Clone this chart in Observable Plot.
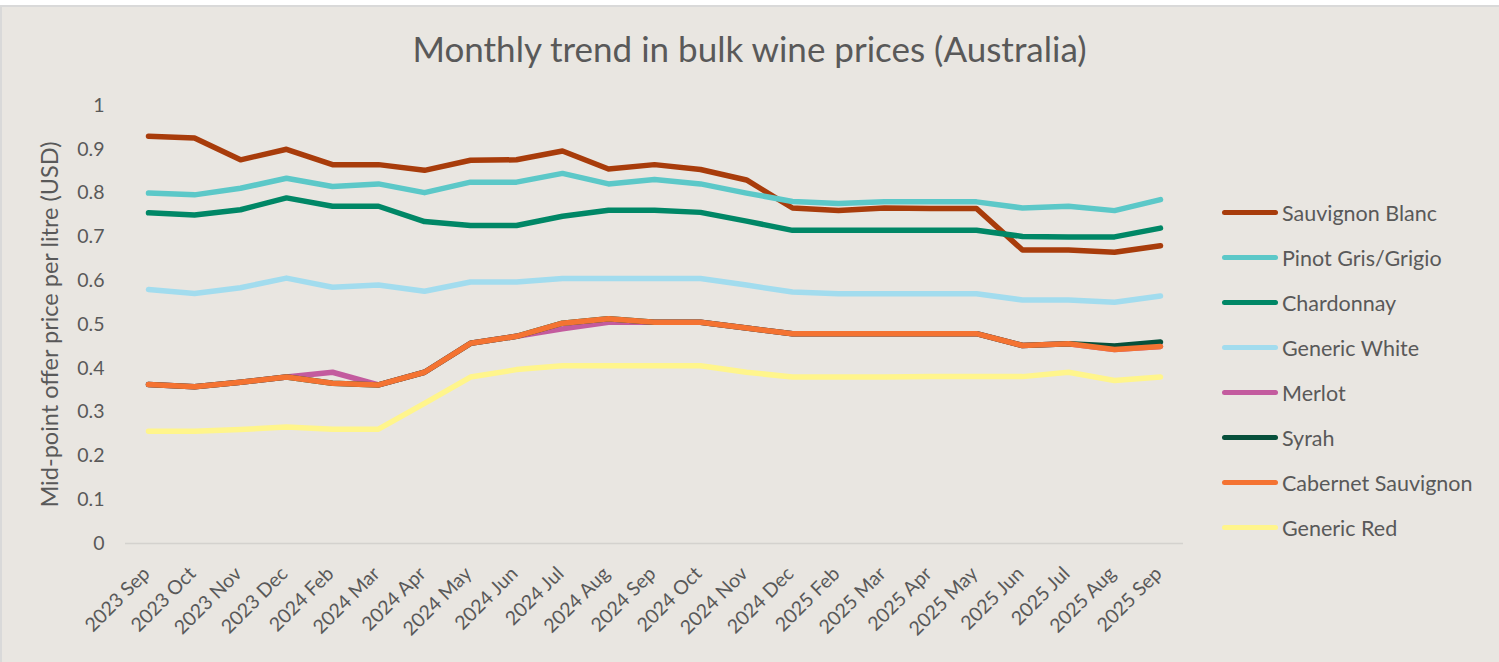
<!DOCTYPE html>
<html>
<head>
<meta charset="utf-8">
<script src="https://cdn.jsdelivr.net/npm/d3@7"></script>
<script src="https://cdn.jsdelivr.net/npm/@observablehq/plot@0.6"></script>
<style>
  html, body { margin: 0; padding: 0; background: #ffffff; }
  #wrap { position: relative; width: 1499px; height: 662px; overflow: hidden; font-family: Lato, "Open Sans", sans-serif; color: #595959; }
  #panel { position: absolute; left: 0; top: 5px; width: 1499px; height: 660px; background: #E9E6E1; border-top: 2px solid #D9D9D9; border-left: 2px solid #D9D9D9; box-sizing: border-box; }
  #title { position: absolute; left: 0; width: 1499px; top: 27px; text-align: center; font-size: 35px; color: #595959; }
  #chart { position: absolute; left: 0; top: 0; }
  #legend { position: absolute; left: 1222px; top: 190px; }
  .row { position: absolute; left: 0; height: 45px; display: flex; align-items: center; white-space: nowrap; }
  .sw { width: 56px; height: 5px; border-radius: 3px; margin-right: 4px; }
  .lab { font-size: 21.5px; color: #595959; }
</style>
</head>
<body>
<div id="wrap">
  <div id="panel"></div>
  <div id="title">Monthly trend in bulk wine prices (Australia)</div>
  <div id="chart"></div>
  <div id="legend"></div>
</div>
<script>
const months = ["2023 Sep","2023 Oct","2023 Nov","2023 Dec","2024 Feb","2024 Mar","2024 Apr","2024 May","2024 Jun","2024 Jul","2024 Aug","2024 Sep","2024 Oct","2024 Nov","2024 Dec","2025 Feb","2025 Mar","2025 Apr","2025 May","2025 Jun","2025 Jul","2025 Aug","2025 Sep"];

const seriesNames = ["Sauvignon Blanc","Pinot Gris/Grigio","Chardonnay","Generic White","Merlot","Syrah","Cabernet Sauvignon","Generic Red"];
const seriesColors = ["#A83C0B","#5CC8C8","#008766","#A2DCEE","#C35B9E","#07503B","#F47332","#FFF58C"];

const sauvignonBlanc = [0.930,0.926,0.876,0.900,0.865,0.865,0.852,0.875,0.876,0.896,0.855,0.865,0.854,0.830,0.766,0.760,0.766,0.765,0.765,0.670,0.670,0.665,0.680];
const pinotGris      = [0.800,0.796,0.811,0.834,0.815,0.821,0.801,0.825,0.825,0.845,0.821,0.831,0.821,0.800,0.781,0.776,0.780,0.780,0.780,0.766,0.770,0.760,0.785];
const chardonnay     = [0.755,0.750,0.762,0.789,0.770,0.770,0.735,0.726,0.726,0.747,0.761,0.761,0.756,0.736,0.715,0.715,0.715,0.715,0.715,0.701,0.700,0.700,0.720];
const genericWhite   = [0.580,0.571,0.584,0.606,0.585,0.590,0.576,0.597,0.597,0.605,0.605,0.605,0.605,0.590,0.574,0.570,0.570,0.570,0.570,0.556,0.556,0.551,0.565];
const merlot         = [0.363,0.358,0.368,0.380,0.391,0.362,0.391,0.457,0.473,0.490,0.505,0.505,0.505,0.492,0.479,0.479,0.479,0.479,0.479,0.452,0.456,0.443,0.450];
const syrah          = [0.363,0.358,0.368,0.380,0.366,0.362,0.391,0.457,0.473,0.503,0.513,0.505,0.505,0.492,0.479,0.479,0.479,0.479,0.479,0.452,0.456,0.451,0.460];
const cabernet       = [0.363,0.358,0.368,0.380,0.366,0.362,0.391,0.457,0.473,0.503,0.513,0.505,0.505,0.492,0.479,0.479,0.479,0.479,0.479,0.452,0.456,0.443,0.450];
const genericRed     = [0.256,0.256,0.260,0.266,0.261,0.261,0.320,0.380,0.397,0.406,0.406,0.406,0.406,0.391,0.380,0.380,0.380,0.381,0.381,0.381,0.391,0.372,0.380];

const seriesValues = [sauvignonBlanc, pinotGris, chardonnay, genericWhite, merlot, syrah, cabernet, genericRed];
const yTicks = [0,0.1,0.2,0.3,0.4,0.5,0.6,0.7,0.8,0.9,1];
const yLabel = "Mid-point offer price per litre (USD)";

const rows = seriesNames.map((name, si) => months.map((m, i) => ({series: name, month: m, value: seriesValues[si][i]})));

const plot = Plot.plot({
  width: 1499,
  height: 662,
  marginLeft: 125,
  marginRight: 316,
  marginTop: 105,
  marginBottom: 119,
  style: {background: "transparent", color: "#595959", fontFamily: "Lato, 'Open Sans', sans-serif"},
  x: {type: "point", domain: months, padding: 0.5},
  y: {domain: [0, 1]},
  color: {domain: seriesNames, range: seriesColors},
  marks: [
    Plot.ruleY([0], {stroke: "#D4D2CE", strokeWidth: 1.5}),
    Plot.axisY({ticks: yTicks, tickSize: 0, tickPadding: 21, fontSize: 19.5, tickFormat: d => String(+d.toFixed(1)), label: yLabel, labelAnchor: "center", labelArrow: "none", labelOffset: 84}),
    Plot.axisX({tickSize: 0, tickRotate: -45, tickPadding: 27, dx: -2, fontSize: 19.5, label: null}),
    ...rows.map(r => Plot.line(r, {x: "month", y: "value", stroke: "series", strokeWidth: 5.5, strokeLinecap: "round", strokeLinejoin: "round"}))
  ]
});
document.getElementById("chart").appendChild(plot);
plot.querySelectorAll("g[aria-label='y-axis label'] text").forEach(t => t.setAttribute("font-size", "23.5"));

const legend = document.getElementById("legend");
seriesNames.forEach((name, i) => {
  const row = document.createElement("div");
  row.className = "row";
  row.style.top = (i * 45) + "px";
  const sw = document.createElement("div");
  sw.className = "sw";
  sw.style.background = seriesColors[i];
  const lab = document.createElement("span");
  lab.className = "lab";
  lab.textContent = name;
  row.appendChild(sw); row.appendChild(lab);
  legend.appendChild(row);
});
</script>
</body>
</html>
